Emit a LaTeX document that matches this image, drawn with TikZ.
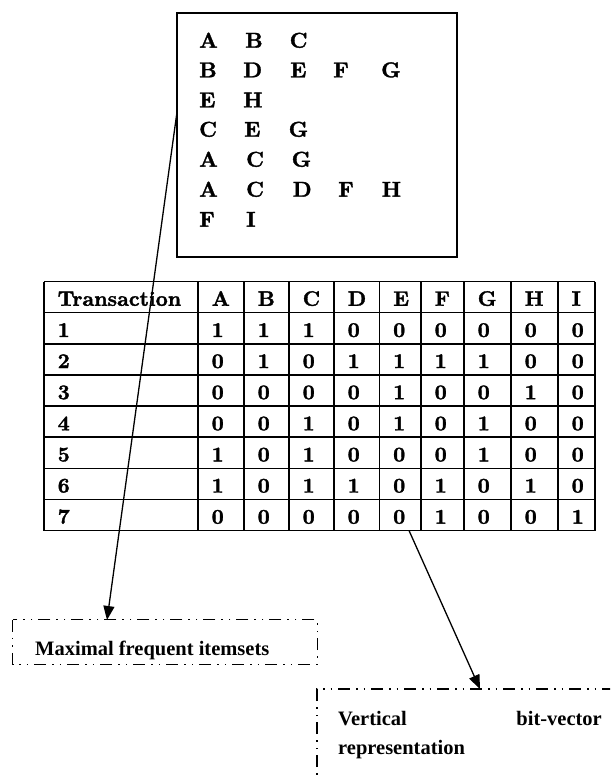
\documentclass[tikz,border=0pt]{standalone}
\usepackage{fontspec}
\newfontfamily\lserif{Liberation Serif}
\newfontfamily\tabfont[FakeBold=1.6]{lmroman10-bold.otf}
\usetikzlibrary{arrows.meta}
\begin{document}
\begin{tikzpicture}[x=1pt,y=-1pt,
  cell/.style={inner sep=0pt,anchor=base west,font=\tabfont\fontsize{21}{24}\selectfont},
  letter/.style={inner sep=0pt,anchor=base west,font=\tabfont\fontsize{21.5}{24}\selectfont},
  lab/.style={inner sep=0pt,font=\lserif\fontsize{20.5}{24}\selectfont\bfseries},
  grid/.style={line width=1.5pt},
  frame/.style={draw,line width=1.3pt,inner sep=0pt},
  dashframe/.style={line width=1.3pt,dash pattern=on 12pt off 6pt on 1.5pt off 6pt on 1.5pt off 6pt},
  conn/.style={line width=1.3pt,-{Triangle[length=14pt,width=11pt]}}]
\useasboundingbox (0,0) rectangle (610,781);
\clip (0,0) rectangle (610,781);
% top list box
\node[frame,minimum width=280pt,minimum height=244pt] (list) at (317,135) {};
\foreach \t/\xx/\yy [count=\i] in {A/199/47.7,B/245/47.7,C/289.5/47.7,
  B/199/77.3,D/243/77.3,E/290/77.3,F/333/77.3,G/381/77.3,
  E/199/107.3,H/243/107.3,
  C/199/136.7,E/244/136.7,G/288.5/136.7,
  A/199/166.7,C/246/166.7,G/291.5/166.7,
  A/199/196.7,C/246/196.7,D/292.5/196.7,F/338/196.7,H/381.5/196.7,
  F/199/226.7,I/246/226.7}
  \node[letter] (l\i) at (\xx,\yy) {\t};
% table grid
\foreach \k in {0,...,8}
  \draw[grid] (44,281.5+\k*31.125) -- (595,281.5+\k*31.125);
\foreach \xx in {44,198,244,289,334,379.5,421,464,511,558,595}
  \draw[grid] (\xx,281.5) -- (\xx,530.5);
% table text
\foreach \cells [count=\r from 0] in {
  {Transaction,A,B,C,D,E,F,G,H,I},
  {1,1,1,1,0,0,0,0,0,0},
  {2,0,1,0,1,1,1,1,0,0},
  {3,0,0,0,0,1,0,0,1,0},
  {4,0,0,1,0,1,0,1,0,0},
  {5,1,0,1,0,0,0,1,0,0},
  {6,1,0,1,1,0,1,0,1,0},
  {7,0,0,0,0,0,1,0,0,1}}
{
  \foreach \c [count=\k from 0] in \cells {
    \pgfmathsetmacro\cx{{44,198,244,289,334,379.5,421,464,511,558}[\k]}
    \node[cell] (c-\r-\k) at (\cx+13.5,281.5+\r*31.125+24.3) {\c};
  }
}
% maximal box
\node[inner sep=0pt,minimum width=304pt,minimum height=44pt] (maxbox) at (165,642) {};
\draw[dashframe] (maxbox.north west) rectangle (maxbox.south east);
\node[lab,anchor=base west] (maxtxt) at (35,655) {Maximal frequent itemsets};
% vertical box (open to the right and below)
\coordinate (vb) at (317,689);
\draw[dashframe] (317,800) -- (vb) -- (640,689);
\node[lab,anchor=base west] (vt1) at (338,725) {Vertical};
\node[lab,anchor=base east] (vt2) at (602,725) {bit-vector};
\node[lab,anchor=base west] (vt3) at (338,754) {representation};
% connectors
\coordinate (s1) at (177,112);
\coordinate (e1) at (107,620);
\draw[conn] (s1) -- (e1);
\coordinate (s2) at (409,530.5);
\coordinate (e2) at (480,689);
\draw[conn] (s2) -- (e2);
\end{tikzpicture}
\end{document}
